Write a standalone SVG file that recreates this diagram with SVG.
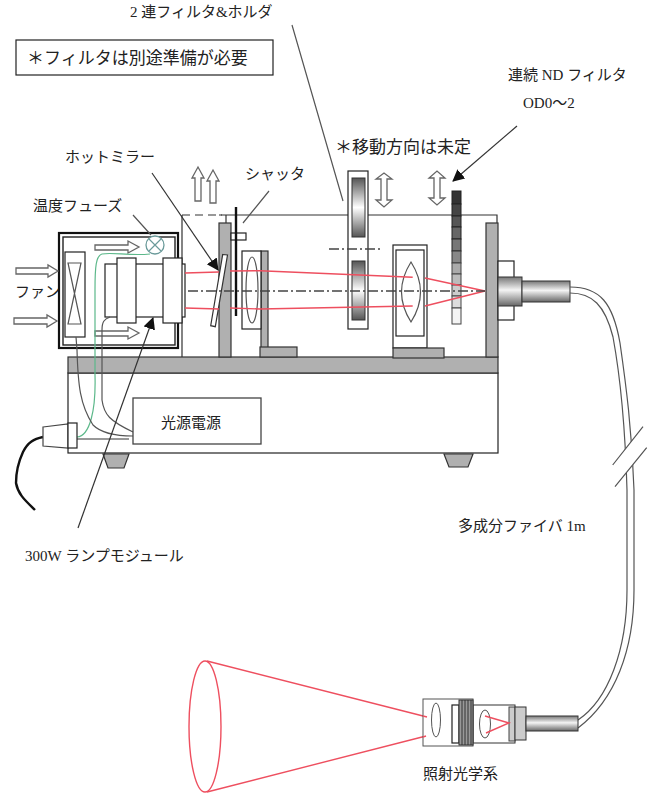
<svg xmlns="http://www.w3.org/2000/svg" width="651" height="800" viewBox="0 0 651 800">
<style>
text{font-family:"Liberation Serif","Noto Sans CJK JP",serif;font-size:15px;fill:#222}
.l{fill:none;stroke:#333;stroke-width:1.2}
.b{fill:#fff;stroke:#222;stroke-width:1.2}
.g{fill:#b0b0b0;stroke:#333;stroke-width:1.2}
.a{fill:#fff;stroke:#666;stroke-width:1.3}
.red{fill:none;stroke:#ee4f5f;stroke-width:1.4}
.cl{fill:none;stroke:#444;stroke-width:1.4;stroke-dasharray:10 3 2 3}
.w{fill:none;stroke:#555;stroke-width:1.2}
</style>
<defs>
<linearGradient id="fil" x1="0" y1="0" x2="0" y2="1"><stop offset="0" stop-color="#555"/><stop offset=".5" stop-color="#fff"/><stop offset="1" stop-color="#555"/></linearGradient>
<linearGradient id="cyl" x1="0" y1="0" x2="0" y2="1"><stop offset="0" stop-color="#777"/><stop offset=".45" stop-color="#f4f4f4"/><stop offset="1" stop-color="#666"/></linearGradient>
<marker id="ah" markerUnits="userSpaceOnUse" markerWidth="13" markerHeight="13" refX="11" refY="6" orient="auto"><path d="M0 0L12 6L0 12Z" fill="#111"/></marker>
</defs>
<rect width="651" height="800" fill="#fff"/>

<g id="note"><rect x="16" y="40" width="257" height="35" fill="#fff" stroke="#222" stroke-width="1.2"/><text x="27" y="64" style="font-size:17px">＊フィルタは別途準備が必要</text></g>
<g id="labels">
<text x="130" y="17">2 連フィルタ&amp;ホルダ</text>
<text x="508" y="80">連続 ND フィルタ</text>
<text x="523" y="108">OD0～2</text>
<text x="335" y="153" style="font-size:17px">＊移動方向は未定</text>
<text x="65" y="162">ホットミラー</text>
<text x="245" y="179">シャッタ</text>
<text x="33" y="211">温度フューズ</text>
<text x="15" y="297">ファン</text>
<text x="25" y="561">300W ランプモジュール</text>
<text x="458" y="531">多成分ファイバ 1m</text>
<text x="423" y="779">照射光学系</text>
</g>

<g id="cover">
<path class="l" d="M182 357V215M219 215H497V357"/>
<path class="l" stroke-dasharray="8 5" d="M182 215H222"/>
</g>

<g id="base">
<rect x="68" y="373" width="430" height="80" class="b"/>
<rect x="68" y="357" width="430" height="16" class="g"/>
<path class="g" d="M103 454H129L124 468H108Z"/>
<path class="g" d="M444 454H473L468 467H449Z"/>
</g>

<g id="lamp-module">
<rect x="59" y="233" width="119" height="115" fill="#fff" stroke="#111" stroke-width="2.2"/>
<rect x="63" y="237" width="112" height="108" fill="#fff" stroke="#222" stroke-width="1.4"/>
<rect x="65" y="252" width="20" height="85" class="b"/>
<path fill="none" stroke="#555" stroke-width="1.2" d="M68 263H81L68 324H81Z"/>
<rect x="105" y="264" width="80" height="53" class="b"/>
<rect x="117" y="258" width="19" height="65" class="b"/>
<rect x="163" y="258" width="19" height="65" class="b"/>
<path class="a" d="M95 245H128V241L139 247L128 253V250H95Z"/>
<path class="a" d="M95 331H128V327L139 333L128 339V336H95Z"/>
</g>
<g id="fuse"><circle cx="155" cy="245" r="9" fill="#fff" stroke="#6a9a9a" stroke-width="1.3"/><path fill="none" stroke="#6a9a9a" stroke-width="1.2" d="M149 239L161 251M161 239L149 251"/></g>

<g id="fan-arrows">
<path class="a" d="M16 268H48V265L58 271L48 277V274H16Z"/>
<path class="a" d="M14 318H47V315L57 321L47 327V324H14Z"/>
<path class="a" d="M195 201V178H192L198 167L204 178H201V201Z"/>
<path class="a" d="M210 203V181H207L213 170L219 181H216V203Z"/>
</g>

<g id="hot-mirror-post">
<rect x="219" y="223" width="12" height="134" class="g"/>
<path class="l" d="M226 215V223"/>
<path fill="#fff" stroke="#333" stroke-width="1.2" d="M222.700 254.500L227.500 255L215.300 326.700L210.700 325.700Z"/>
</g>
<g id="shutter">
<rect x="231" y="233" width="15" height="7" class="b"/>
<path fill="none" stroke="#111" stroke-width="2.4" d="M236 207V316"/>
</g>
<g id="lens-1">
<rect x="261" y="251" width="7" height="97" class="g"/>
<rect x="260" y="347" width="37" height="10" class="g"/>
<rect x="242" y="251" width="19" height="78" class="b"/>
<ellipse cx="252" cy="290" rx="6" ry="33" fill="#fff" stroke="#555" stroke-width="1.2"/>
</g>
<g id="filter-holder">
<rect x="348" y="171" width="20" height="158" class="b"/>
<rect x="352" y="178" width="13" height="59" fill="url(#fil)" stroke="#333"/>
<rect x="352" y="261" width="13" height="59" fill="url(#fil)" stroke="#333"/>
<path class="cl" d="M329 249H382"/>
<path class="a" d="M381 200V179H376L384 173L392 179H387V200H392L384 207L376 200Z"/>
<path class="a" d="M434 198V178H429L437 171L445 178H440V198H445L437 205L429 198Z"/>
</g>
<g id="lens-2">
<rect x="393" y="245" width="34" height="103" class="b"/>
<rect x="396" y="250" width="28" height="86" class="b"/>
<path fill="#fff" stroke="#555" stroke-width="1.2" d="M411 262Q392 292 411 322Q430 292 411 262Z"/>
<rect x="393" y="348" width="51" height="10" class="g"/>
</g>
<g id="nd-filter">
<rect x="452" y="191" width="9" height="13" fill="#333" stroke="#222"/>
<rect x="452" y="204" width="9" height="12" fill="#444" stroke="#222"/>
<rect x="452" y="216" width="9" height="11" fill="#555" stroke="#222"/>
<rect x="452" y="227" width="9" height="12" fill="#666" stroke="#222"/>
<rect x="452" y="239" width="9" height="12" fill="#777" stroke="#222"/>
<rect x="452" y="251" width="9" height="12" fill="#888" stroke="#333"/>
<rect x="452" y="263" width="9" height="11" fill="#aaa" stroke="#444"/>
<rect x="452" y="274" width="9" height="11" fill="#bbb" stroke="#444"/>
<rect x="452" y="285" width="9" height="11" fill="#ccc" stroke="#444"/>
<rect x="452" y="296" width="9" height="12" fill="#ddd" stroke="#444"/>
<rect x="452" y="308" width="9" height="16" fill="#f4f4f4" stroke="#444"/>
</g>
<g id="fiber-connector">
<rect x="486" y="223" width="12" height="134" class="g"/>
<rect x="498" y="261" width="16" height="59" class="b"/>
<rect x="498" y="277" width="24" height="29" fill="url(#cyl)" stroke="#333"/>
<rect x="522" y="281" width="48" height="21" fill="url(#cyl)" stroke="#333"/>
</g>

<g id="connectors">
<path class="red" d="M185 273L219 272M185 308L219 309M230 271L260 270.700L412.700 277.300M425 278L485 291L425 306M412.700 306L260 309L230 308"/>
<path class="cl" d="M188 291H485"/>
<path class="w" style="stroke:#5cb88a" d="M150 254C130 256 112 252 102 254C96 256 95 266 95 290V375C96 410 90 436 77 437"/>
<path class="w" d="M76 337L77 350C78 385 80 405 93 425C102 434 120 436 133 436"/>
<path class="w" d="M110 317C104 319 102 322 102 330V400C104 415 110 421 133 432"/>
<path class="l" d="M77 439H129"/>
<path class="l" style="stroke:#555" d="M133 215L151 235M269 191L243 223M292 25L343 201"/>
<path class="l" marker-end="url(#ah)" d="M152 173L218 270"/>
<path class="l" marker-end="url(#ah)" d="M78 528L153 318"/>
<path class="l" marker-end="url(#ah)" d="M517 126L453 181"/>
<path fill="none" stroke="#111" stroke-width="2.4" d="M43 437C34 439 28 442 23 452C17 465 16 478 16 483C18 495 27 502 35 510"/>
<path class="w" d="M570 287C600 287 613 303 620 343C626 385 632 430 634 490V590C634 650 615 700 578 728"/>
<path class="w" d="M570 293C592 293 605 305 613 337C620 375 625 420 627 490V590C627 650 608 700 578 720"/>
<path fill="#fff" stroke="none" d="M612.700 465L643 426.700L646.700 447.700L615 486.700Z"/>
<path class="w" d="M612.700 465L643 426.700M615 486.700L646.700 447.700"/>
<path class="red" d="M207 661L427 717M207 792L426 736"/>
</g>
<g id="plug">
<path fill="#fff" stroke="#444" stroke-width="1.2" d="M43 427L68 424V448L43 446Z"/>
<rect x="68" y="423" width="9" height="25" class="b"/>
</g>
<g id="power"><rect x="133" y="398" width="128" height="46" fill="#fff" stroke="#444" stroke-width="1.3"/><text x="161" y="428">光源電源</text></g>
<g id="optics">
<ellipse cx="205" cy="726.500" rx="16" ry="65.500" fill="none" stroke="#ee4f5f" stroke-width="1.4"/>
<rect x="473" y="705" width="42" height="38" fill="#fff" stroke="#333"/>
<ellipse cx="485" cy="724" rx="5.500" ry="14" fill="#fff" stroke="#555"/>
<rect x="423" y="699" width="50" height="47" fill="#fff" stroke="#555"/>
<ellipse cx="436" cy="720" rx="4.500" ry="17" fill="#fff" stroke="#555"/>
<rect x="452" y="705" width="7" height="38" class="b"/>
<rect x="459" y="700" width="14" height="45" fill="#999" stroke="#333"/>
<path stroke="#333" fill="none" d="M462 700V745M465 700V745M468 700V745M471 700V745"/>
<rect x="509" y="707" width="6" height="34" fill="#ccc" stroke="#444"/>
<rect x="515" y="707" width="11" height="33" fill="#ccc" stroke="#333"/>
<rect x="526" y="716" width="52" height="15" fill="url(#cyl)" stroke="#333"/>
<path class="red" d="M485 716L509 723L486 733"/>
<path class="red" d="M423 716L427 717M423 737L426 736"/>
</g>
</svg>
